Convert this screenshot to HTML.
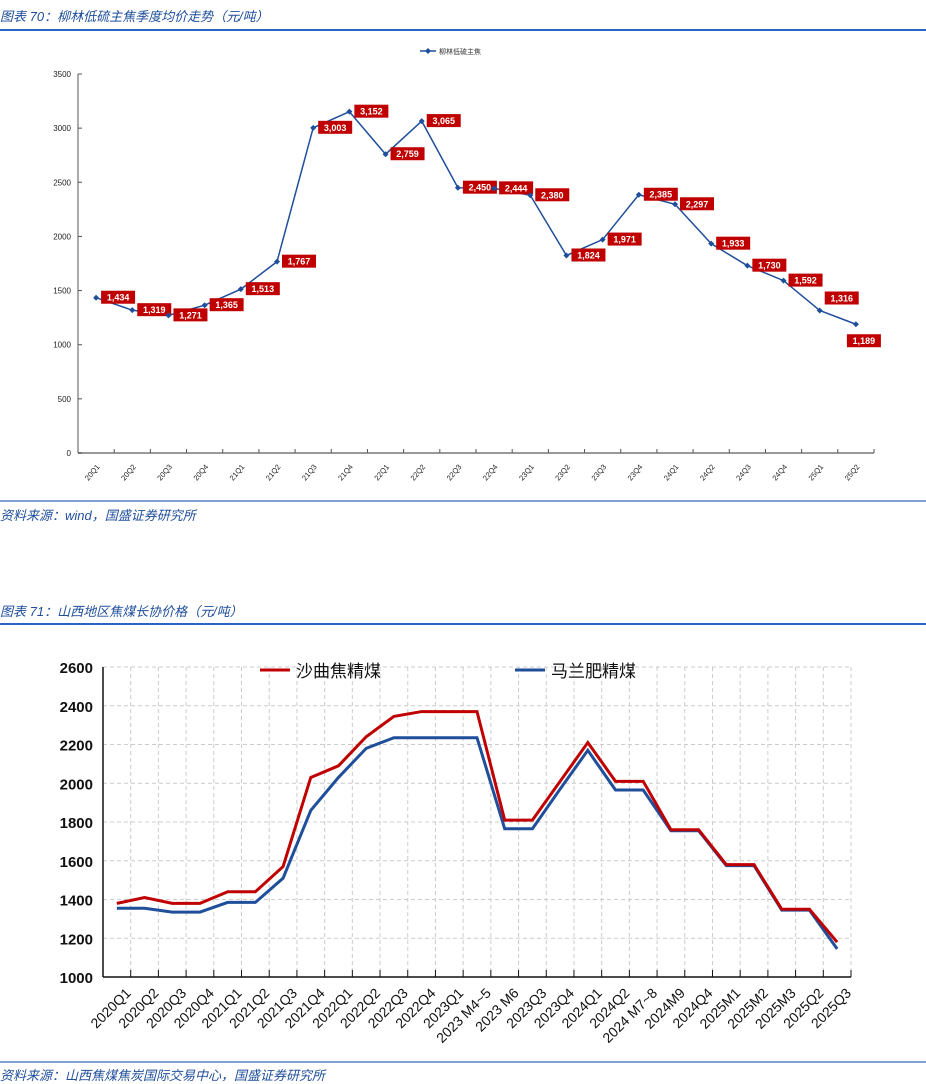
<!DOCTYPE html>
<html><head><meta charset="utf-8">
<style>
body{margin:0;width:926px;height:1083px;background:#fff;position:relative;overflow:hidden;font-family:"Liberation Sans","Noto Sans CJK SC",sans-serif;}
.t{position:absolute;left:0;color:#1f4e9a;font-style:italic;font-size:13px;}
.ln{position:absolute;left:0;width:926px;height:2px;background:#2a64c4;}
svg{position:absolute;left:0;top:0;}
</style></head><body>
<div class="t" style="top:6px">图表 70：柳林低硫主焦季度均价走势（元/吨）</div>
<div class="ln" style="top:29px"></div>
<div class="ln" style="top:500px;background:#7f9fd6"></div>
<div class="t" style="top:505px">资料来源：wind，国盛证券研究所</div>
<div class="t" style="top:601px">图表 71：山西地区焦煤长协价格（元/吨）</div>
<div class="ln" style="top:623px"></div>
<div class="ln" style="top:1061px;background:#7f9fd6"></div>
<div class="t" style="top:1065px">资料来源：山西焦煤焦炭国际交易中心，国盛证券研究所</div>
<svg id="c1" width="926" height="1083"></svg>
<script>
const cats1=["20Q1","20Q2","20Q3","20Q4","21Q1","21Q2","21Q3","21Q4","22Q1","22Q2","22Q3","22Q4","23Q1","23Q2","23Q3","23Q4","24Q1","24Q2","24Q3","24Q4","25Q1","25Q2"];
const vals1=[1434,1319,1271,1365,1513,1767,3003,3152,2759,3065,2450,2444,2380,1824,1971,2385,2297,1933,1730,1592,1316,1189];
const ticks1=[0,500,1000,1500,2000,2500,3000,3500];
const cats2=["2020Q1","2020Q2","2020Q3","2020Q4","2021Q1","2021Q2","2021Q3","2021Q4","2022Q1","2022Q2","2022Q3","2022Q4","2023Q1","2023 M4~5","2023 M6","2023Q3","2023Q4","2024Q1","2024Q2","2024 M7~8","2024M9","2024Q4","2025M1","2025M2","2025M3","2025Q2","2025Q3"];
const red2=[1380,1410,1380,1380,1440,1440,1570,2030,2090,2240,2345,2370,2370,2370,1810,1810,2010,2210,2010,2010,1760,1760,1580,1580,1350,1350,1180];
const blue2=[1355,1355,1335,1335,1385,1385,1510,1860,2030,2180,2235,2235,2235,2235,1765,1765,1970,2170,1965,1965,1755,1755,1575,1575,1345,1345,1145];
const ticks2=[1000,1200,1400,1600,1800,2000,2200,2400,2600];
const NS="http://www.w3.org/2000/svg";
const svg=document.getElementById('c1');
function mk(t,a,p){const e=document.createElementNS(NS,t);for(const k in a)e.setAttribute(k,a[k]);(p||svg).appendChild(e);return e;}
// chart1
const L1=78,R1=874,T1=74,B1=453;
const bw1=(R1-L1)/cats1.length;
const x1=i=>L1+bw1*(i+0.5), y1=v=>B1-(v/3500)*(B1-T1);
let e=mk('line',{x1:L1,y1:T1,x2:L1,y2:B1,stroke:'#555'});


e=mk('line',{x1:L1,y1:B1,x2:R1,y2:B1,stroke:'#999','stroke-width':2});


ticks1.forEach(v=>{mk('line',{x1:L1,y1:y1(v),x2:L1+4,y2:y1(v),stroke:'#555'});
 e=mk('text',{x:L1-7,y:y1(v)+3,'text-anchor':'end','font-size':8,fill:'#222'});e.textContent=v;
 
 });
for(let i=0;i<=cats1.length;i++)mk('line',{x1:L1+bw1*i,y1:B1-4,x2:L1+bw1*i,y2:B1,stroke:'#555'});
cats1.forEach((c,i)=>{e=mk('text',{x:x1(i)+4,y:B1+14,'text-anchor':'end','font-size':7.5,fill:'#222',transform:`rotate(-50 ${x1(i)+4} ${B1+14})`});e.textContent=c;
 
 });
e=mk('polyline',{points:vals1.map((v,i)=>x1(i)+','+y1(v)).join(' '),fill:'none',stroke:'#1f4e9a','stroke-width':1.5});


vals1.forEach((v,i)=>{const px=x1(i),py=y1(v);
 e=mk('path',{d:`M${px-3} ${py}L${px} ${py-3}L${px+3} ${py}L${px} ${py+3}Z`,fill:'#1f4e9a'});
 
 
 const lbl=v.toLocaleString('en-US');let bx=px+5,by=py-7;
 if(i===cats1.length-1){bx=px-9;by=py+10;}
 if(i===cats1.length-2){bx=px+5;by=py-19;}
 const w=lbl.length*5.6+6;
 e=mk('rect',{x:bx,y:by,width:w,height:13,fill:'#c00000'});
 
 
 e=mk('text',{x:bx+w/2,y:by+10,'text-anchor':'middle','font-size':9,'font-weight':'bold',fill:'#fff'});e.textContent=lbl;
 
 });
mk('line',{x1:420,y1:51,x2:436,y2:51,stroke:'#1f4e9a','stroke-width':1.5});
mk('path',{d:'M425 51L428 48L431 51L428 54Z',fill:'#1f4e9a'});
e=mk('text',{x:439,y:54,'font-size':7,fill:'#333'});e.textContent='柳林低硫主焦';


// chart2
const L2=103,R2=851,T2=667,B2=977;
const bw2=(R2-L2)/cats2.length;
const x2=i=>L2+bw2*(i+0.5), y2=v=>B2-(v-1000)/1600*(B2-T2);
ticks2.forEach(v=>{if(v>1000)mk('line',{x1:L2,y1:y2(v),x2:R2,y2:y2(v),stroke:'#ccc','stroke-dasharray':'4,3'});
 e=mk('text',{x:L2-10,y:y2(v)+6,'text-anchor':'end','font-size':15,'font-weight':'bold',fill:'#111'});e.textContent=v;
 
 });
for(let i=1;i<=cats2.length;i++)mk('line',{x1:L2+bw2*i,y1:T2,x2:L2+bw2*i,y2:B2,stroke:'#ccc','stroke-dasharray':'4,3'});
for(let i=0;i<=cats2.length;i++)mk('line',{x1:L2+bw2*i,y1:B2,x2:L2+bw2*i,y2:B2-7,stroke:'#111'});
mk('line',{x1:L2,y1:T2,x2:L2,y2:B2,stroke:'#111','stroke-width':1.5});
e=mk('line',{x1:L2,y1:B2,x2:R2,y2:B2,stroke:'#111','stroke-width':1.5});


cats2.forEach((c,i)=>{const tx=x2(i)+8,ty=B2+10;e=mk('text',{x:tx,y:ty,'text-anchor':'end','font-size':14,fill:'#111',transform:`rotate(-45 ${tx} ${ty})`,dy:'0.7em'});e.textContent=c;
 
 });
e=mk('polyline',{points:blue2.map((v,i)=>x2(i)+','+y2(v)).join(' '),fill:'none',stroke:'#1f4e9a','stroke-width':3});


e=mk('polyline',{points:red2.map((v,i)=>x2(i)+','+y2(v)).join(' '),fill:'none',stroke:'#c00000','stroke-width':3});


mk('line',{x1:260,y1:670,x2:290,y2:670,stroke:'#c00000','stroke-width':3});
e=mk('text',{x:296,y:677,'font-size':17,fill:'#111'});e.textContent='沙曲焦精煤';


mk('line',{x1:515,y1:670,x2:545,y2:670,stroke:'#1f4e9a','stroke-width':3});
e=mk('text',{x:551,y:677,'font-size':17,fill:'#111'});e.textContent='马兰肥精煤';


</script>
</body></html>
